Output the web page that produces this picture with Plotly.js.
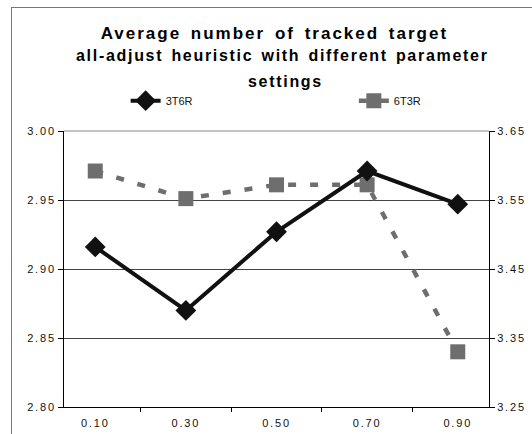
<!DOCTYPE html>
<html><head><meta charset="utf-8">
<script src="https://cdn.plot.ly/plotly-3.0.1.min.js"></script>
<style>
html,body{margin:0;padding:0;background:#fff;}
#frame{position:absolute;left:11px;top:7px;width:530px;height:440px;border-left:1px solid #777;border-top:1px solid #777;pointer-events:none;}
#chart{position:absolute;left:0;top:0;width:532px;height:434px;}
</style></head>
<body>
<div id="chart"></div>
<div id="frame"></div>
<script>
const categories = ['0.10','0.30','0.50','0.70','0.90'];
const series3T6R = [2.916, 2.870, 2.927, 2.971, 2.947];
const series6T3R = [3.592, 3.552, 3.572, 3.572, 3.330];
const leftTicks = [2.80, 2.85, 2.90, 2.95, 3.00];
const rightTicks = [3.25, 3.35, 3.45, 3.55, 3.65];
const titleLine1 = 'Average number of tracked target';
const titleLine2 = 'all-adjust heuristic with different parameter';
const titleLine3 = 'settings';

const traces = [
  {x: categories, y: series6T3R, name: '6T3R', yaxis: 'y', legend: 'legend2', type: 'scatter', mode: 'lines+markers',
   line: {color: '#6e6e6e', width: 4.5, dash: '8px,14px'},
   marker: {symbol: 'square', size: 15, color: '#6e6e6e'}},
  {x: categories, y: series3T6R, name: '3T6R', yaxis: 'y2', legend: 'legend', type: 'scatter', mode: 'lines+markers',
   line: {color: '#111', width: 4},
   marker: {symbol: 'diamond', size: 16, color: '#111'}}
];

const tf = {family: 'Liberation Sans, Arial, sans-serif', size: 11, color: '#111'};
const sp1 = 'letter-spacing:2px;word-spacing:3px';
const sp2 = 'letter-spacing:1.7px;word-spacing:2px';
const tsp = v => '<span style="letter-spacing:1.8px">' + v + '</span>';
const legBase = {orientation: 'h', y: 1.11, xanchor: 'left', yanchor: 'middle', bgcolor: 'rgba(0,0,0,0)',
                 font: {family: 'Liberation Sans, Arial, sans-serif', size: 11, color: '#111'}};
const subFont = {family: 'Liberation Sans, Arial, sans-serif', size: 16, color: '#000'};
const layout = {
  width: 532, height: 434,
  margin: {l: 64, r: 43, t: 131, b: 27},
  paper_bgcolor: '#fff', plot_bgcolor: '#fff',
  showlegend: true,
  title: {text: '<b><span style="' + sp1 + '">' + titleLine1 + '</span></b>',
          font: {family: 'Liberation Sans, Arial, sans-serif', size: 17, color: '#000'},
          x: 0.495, xref: 'paper', xanchor: 'center', y: 0.938, yanchor: 'top'},
  annotations: [
    {text: '<b><span style="' + sp2 + '">' + titleLine2 + '</span></b>',
     xref: 'paper', yref: 'paper', x: 0.515, y: 1.275, xanchor: 'center', yanchor: 'middle', showarrow: false, font: subFont},
    {text: '<b><span style="' + sp2 + '">' + titleLine3 + '</span></b>',
     xref: 'paper', yref: 'paper', x: 0.52, y: 1.18, xanchor: 'center', yanchor: 'middle', showarrow: false, font: subFont}
  ],
  legend: Object.assign({x: 0.145}, legBase),
  legend2: Object.assign({x: 0.682}, legBase),
  xaxis: {type: 'category', tickfont: tf, showline: true, linecolor: '#000', linewidth: 1,
          ticks: 'outside', tickson: 'boundaries', ticklen: 4, tickcolor: '#000', ticklabelstandoff: 6,
          tickvals: categories, ticktext: categories.map(tsp),
          showgrid: false, zeroline: false, fixedrange: true},
  yaxis: {side: 'right', range: [3.25, 3.65], tickvals: rightTicks, ticktext: rightTicks.map(v => tsp(v.toFixed(2))),
          tickfont: tf, showline: true, linecolor: '#000', linewidth: 1, ticks: 'outside', ticklen: 5, tickcolor: '#000',
          showgrid: true, gridcolor: '#444', gridwidth: 1, zeroline: false},
  yaxis2: {side: 'left', overlaying: 'y', range: [2.80, 3.00], tickvals: leftTicks, ticktext: leftTicks.map(v => tsp(v.toFixed(2))),
           tickfont: tf, showline: true, linecolor: '#000', linewidth: 1, ticks: 'outside', ticklen: 5, tickcolor: '#000',
           showgrid: false, zeroline: false},
  shapes: [{type: 'line', xref: 'paper', yref: 'paper', x0: 0, x1: 1, y0: 1, y1: 1, line: {color: '#888', width: 1}}]
};
Plotly.newPlot('chart', traces, layout, {displayModeBar: false, staticPlot: true});
</script>
</body></html>
